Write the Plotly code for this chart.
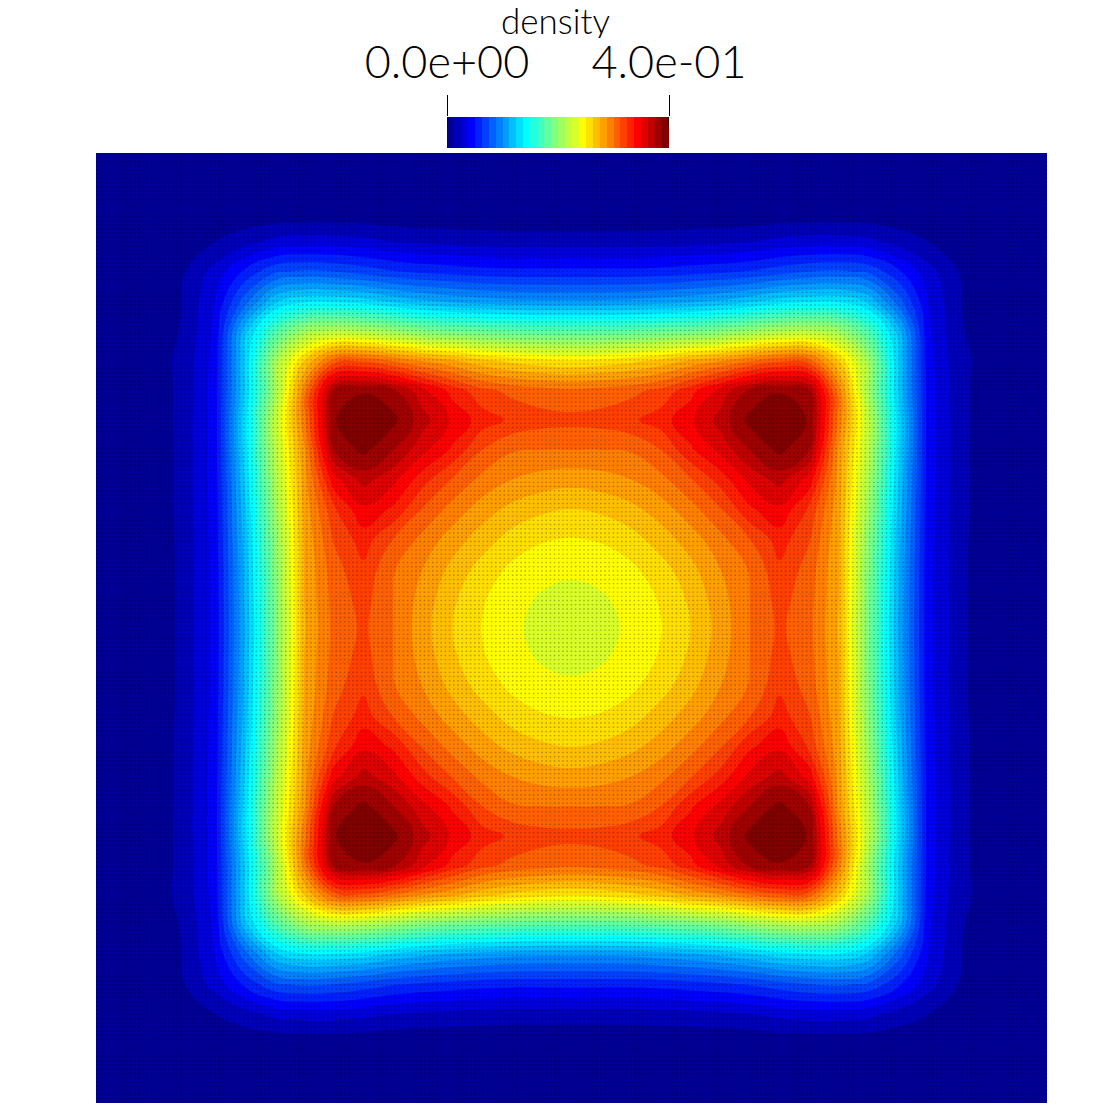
import numpy as np
import plotly.graph_objects as go

# density, in colour-band units (1 unit = 0.0125 of density)
band_rows = [
[0,0,0,0,0,0,0,0,0,0,0,0,0,0,0,0,0,0,0,0,0,0,0,0,0,0,0,0,0,0,0,0,0],
[0,0,0,0,0,0,0,0,0,0,0,0,0,0,0,0,0,0,0,0,0,0,0,0,0,0,0,0,0,0,0,0,0],
[0,0,0,0,.1,.2,.2,.2,.2,.2,.1,.1,.1,.1,.1,.1,.1,.1,.1,.1,.1,.1,.1,.2,.2,.2,.2,.2,.2,.1,0,0,0],
[0,0,0,.2,1.0,1.6,2.3,2.5,2.5,2.3,2.0,1.8,1.7,1.6,1.5,1.5,1.5,1.5,1.5,1.6,1.7,1.8,2.0,2.3,2.5,2.5,2.3,1.6,1.0,.2,0,0,0],
[0,0,.1,1.0,2.4,4.2,5.8,6.2,6.0,5.6,5.1,4.8,4.6,4.4,4.3,4.3,4.3,4.3,4.3,4.4,4.6,4.8,5.1,5.6,6.0,6.2,5.8,4.2,2.4,1.0,.1,0,0],
[0,0,.2,1.1,3.0,6.5,9.8,10.8,10.8,10.5,9.8,9.2,8.8,8.5,8.3,8.2,8.2,8.2,8.3,8.5,8.8,9.2,9.8,10.5,10.8,10.8,9.8,6.5,3.0,1.1,.2,0,0],
[0,0,.3,1.2,3.2,9.5,13.8,16.5,17.3,17.0,16.3,15.5,15,14.7,14.4,14.2,14.2,14.2,14.4,14.7,15,15.5,16.3,17.0,17.3,16.5,13.8,9.5,3.2,1.2,.3,0,0],
[0,0,.5,1.4,3.4,10,16.5,21,24.5,24.8,23.9,22.9,22.2,21.3,20.7,20.3,20.1,20.3,20.7,21.3,22.2,22.9,23.9,24.8,24.5,21,16.5,10,3.4,1.4,.5,0,0],
[0,0,.4,1.4,3.5,10,16.5,23.5,30.2,30.9,30.2,28.3,26.6,25.3,24.7,24.4,24.2,24.4,24.7,25.3,26.6,28.3,30.2,30.9,30.2,23.5,16.5,10,3.5,1.4,.4,0,0],
[0,0,.3,1.5,3.5,10.5,17.5,23.6,30.9,31.9,31.3,29.4,27.8,26.5,25.8,25.4,25.3,25.4,25.8,26.5,27.8,29.4,31.3,31.9,30.9,23.6,17.5,10.5,3.5,1.5,.3,0,0],
[0,0,.2,1.5,3.5,10.4,17.3,22.8,30,31.3,30,28.3,26.8,25,24.1,24,24,24,24.1,25,26.8,28.3,30,31.3,30,22.8,17.3,10.4,3.5,1.5,.2,0,0],
[0,0,.2,1.5,3.5,10,16.8,22.5,27.6,29.4,28.3,26.4,24.9,23.7,23,22.6,22.4,22.6,23,23.7,24.9,26.4,28.3,29.4,27.6,22.5,16.8,10,3.5,1.5,.2,0,0],
[0,0,.2,1.5,3.4,9.7,16.3,22.3,25.8,27.8,26.8,24.9,23.6,22.5,21.7,21.2,21,21.2,21.7,22.5,23.6,24.9,26.8,27.8,25.8,22.3,16.3,9.7,3.4,1.5,.2,0,0],
[0,0,.1,1.5,3.4,9.4,15.8,22.1,25.1,26.5,25,23.7,22.5,21.5,20.6,20.1,19.95,20.1,20.6,21.5,22.5,23.7,25,26.5,25.1,22.1,15.8,9.4,3.4,1.5,.1,0,0],
[0,0,.1,1.45,3.3,9.2,15.5,22,24.6,25.8,24.1,23,21.7,20.6,19.8,19.45,19.25,19.45,19.8,20.6,21.7,23,24.1,25.8,24.6,22,15.5,9.2,3.3,1.45,.1,0,0],
[0,0,.1,1.45,3.3,9.1,15.3,22,24.4,25.4,24,22.6,21.2,20.1,19.45,18.85,18.6,18.85,19.45,20.1,21.2,22.6,24,25.4,24.4,22,15.3,9.1,3.3,1.45,.1,0,0],
[0,0,.1,1.45,3.3,9,15.2,21.9,24.3,25.2,24,22.4,21,19.95,19.25,18.6,18.3,18.6,19.25,19.95,21,22.4,24,25.2,24.3,21.9,15.2,9,3.3,1.45,.1,0,0],
[0,0,.1,1.45,3.3,9.1,15.3,22,24.4,25.4,24,22.6,21.2,20.1,19.45,18.85,18.6,18.85,19.45,20.1,21.2,22.6,24,25.4,24.4,22,15.3,9.1,3.3,1.45,.1,0,0],
[0,0,.1,1.45,3.3,9.2,15.5,22,24.6,25.8,24.1,23,21.7,20.6,19.8,19.45,19.25,19.45,19.8,20.6,21.7,23,24.1,25.8,24.6,22,15.5,9.2,3.3,1.45,.1,0,0],
[0,0,.1,1.5,3.4,9.4,15.8,22.1,25.1,26.5,25,23.7,22.5,21.5,20.6,20.1,19.95,20.1,20.6,21.5,22.5,23.7,25,26.5,25.1,22.1,15.8,9.4,3.4,1.5,.1,0,0],
[0,0,.2,1.5,3.4,9.7,16.3,22.3,25.8,27.8,26.8,24.9,23.6,22.5,21.7,21.2,21,21.2,21.7,22.5,23.6,24.9,26.8,27.8,25.8,22.3,16.3,9.7,3.4,1.5,.2,0,0],
[0,0,.2,1.5,3.5,10,16.8,22.5,27.6,29.4,28.3,26.4,24.9,23.7,23,22.6,22.4,22.6,23,23.7,24.9,26.4,28.3,29.4,27.6,22.5,16.8,10,3.5,1.5,.2,0,0],
[0,0,.2,1.5,3.5,10.4,17.3,22.8,30,31.3,30,28.3,26.8,25,24.1,24,24,24,24.1,25,26.8,28.3,30,31.3,30,22.8,17.3,10.4,3.5,1.5,.2,0,0],
[0,0,.3,1.5,3.5,10.5,17.5,23.6,30.9,31.9,31.3,29.4,27.8,26.5,25.8,25.4,25.3,25.4,25.8,26.5,27.8,29.4,31.3,31.9,30.9,23.6,17.5,10.5,3.5,1.5,.3,0,0],
[0,0,.4,1.4,3.5,10,16.5,23.5,30.2,30.9,30.2,28.3,26.6,25.3,24.7,24.4,24.2,24.4,24.7,25.3,26.6,28.3,30.2,30.9,30.2,23.5,16.5,10,3.5,1.4,.4,0,0],
[0,0,.5,1.4,3.4,10,16.5,21,24.5,24.8,23.9,22.9,22.2,21.3,20.7,20.3,20.1,20.3,20.7,21.3,22.2,22.9,23.9,24.8,24.5,21,16.5,10,3.4,1.4,.5,0,0],
[0,0,.3,1.2,3.2,9.5,13.8,16.5,17.3,17.0,16.3,15.5,15,14.7,14.4,14.2,14.2,14.2,14.4,14.7,15,15.5,16.3,17.0,17.3,16.5,13.8,9.5,3.2,1.2,.3,0,0],
[0,0,.2,1.1,3.0,6.5,9.8,10.8,10.8,10.5,9.8,9.2,8.8,8.5,8.3,8.2,8.2,8.2,8.3,8.5,8.8,9.2,9.8,10.5,10.8,10.8,9.8,6.5,3.0,1.1,.2,0,0],
[0,0,.1,1.0,2.4,4.2,5.8,6.2,6.0,5.6,5.1,4.8,4.6,4.4,4.3,4.3,4.3,4.3,4.3,4.4,4.6,4.8,5.1,5.6,6.0,6.2,5.8,4.2,2.4,1.0,.1,0,0],
[0,0,0,.2,1.0,1.6,2.3,2.5,2.5,2.3,2.0,1.8,1.7,1.6,1.5,1.5,1.5,1.5,1.5,1.6,1.7,1.8,2.0,2.3,2.5,2.5,2.3,1.6,1.0,.2,0,0,0],
[0,0,0,0,.1,.2,.2,.2,.2,.2,.1,.1,.1,.1,.1,.1,.1,.1,.1,.1,.1,.1,.1,.2,.2,.2,.2,.2,.2,.1,0,0,0],
[0,0,0,0,0,0,0,0,0,0,0,0,0,0,0,0,0,0,0,0,0,0,0,0,0,0,0,0,0,0,0,0,0],
[0,0,0,0,0,0,0,0,0,0,0,0,0,0,0,0,0,0,0,0,0,0,0,0,0,0,0,0,0,0,0,0,0],
]

tick_values = [0.0, 0.4]
tick_labels = ["0.0e+00", "4.0e-01"]
band_edges = [0.0125 * i for i in range(33)]

band_colors = [
"#000096","#0000b8","#0000da","#0000ff","#0020ff","#0040ff","#0060ff","#0080ff",
"#009fff","#00bfff","#00dfff","#00ffff","#20ffdf","#40ffbf","#60ff9f","#80ff80",
"#9fff60","#bfff40","#d8ff28","#ffff00","#ffdf00","#ffbf00","#ff9f00","#ff8000",
"#ff6000","#ff4000","#ff2000","#ff0000","#df0000","#bf0000","#9f0000","#800000",
]

W = H = 1110
density = np.array(band_rows, dtype=float) * 0.0125
n = len(band_colors)
scale = []
for i, c in enumerate(band_colors):
    scale.append([i / n, c])
    scale.append([(i + 1) / n, c])

fig = go.Figure()
fig.add_trace(go.Contour(
    z=density,
    x=np.arange(density.shape[1]),
    y=np.arange(density.shape[0]),
    zmin=0, zmax=0.4,
    colorscale=scale,
    autocontour=False,
    contours=dict(start=0.0, end=0.4, size=0.0125, coloring="fill", showlines=False),
    line=dict(width=0, smoothing=1.3),
    hoverinfo="skip",
    showscale=False,
))

# fine computational mesh, seen as a texture of small dots over the field
mx, my = [], []
for v in np.linspace(0, 32, 226):
    mx += [0, 32, None]
    my += [v, v, None]
fig.add_trace(go.Scatter(
    x=mx, y=my, mode="lines", hoverinfo="skip", showlegend=False,
    line=dict(color="rgba(0,0,0,0.28)", width=1.4, dash="1.6px,2.6px"),
))

# colour legend drawn as a real one-row heatmap on its own axis
mids = [(band_edges[i] + band_edges[i + 1]) / 2 for i in range(n)]
fig.add_trace(go.Heatmap(
    z=[mids], x=band_edges, y=[0, 1],
    xaxis="x2", yaxis="y2",
    zmin=0, zmax=0.4, colorscale=scale, showscale=False, hoverinfo="skip",
))

fig.add_annotation(
    text="density", xref="paper", yref="paper",
    x=555 / W, y=(H - 20) / H, xanchor="center", yanchor="middle",
    height=36, valign="middle",
    showarrow=False, font=dict(family="Lato", size=35, color="black", weight=300),
)
for tv in tick_values:
    fig.add_shape(type="line", xref="x2", yref="paper", x0=tv, x1=tv,
                  y0=(H - 127) / H, y1=(H - 117) / H,
                  line=dict(color="black", width=1), layer="above")
fig.update_layout(
    width=W, height=H, autosize=False, showlegend=False,
    margin=dict(l=0, r=0, t=0, b=0, autoexpand=False),
    paper_bgcolor="white", plot_bgcolor="white",
    xaxis=dict(visible=False, domain=[96 / W, 1047 / W], range=[0, 32]),
    yaxis=dict(visible=False, domain=[(H - 1103) / H, (H - 153) / H], range=[32, 0]),
    xaxis2=dict(
        domain=[447 / W, 669 / W], range=[0, 0.4], anchor="y2",
        side="top", automargin=False,
        tickmode="array", tickvals=tick_values, ticktext=tick_labels,
        ticks="outside", ticklen=21, tickwidth=1, tickcolor="black",
        showline=False, showgrid=False, zeroline=False, ticklabelstandoff=-1,
        tickfont=dict(family="Lato", size=45, color="black", weight=300),
    ),
    yaxis2=dict(
        visible=False, domain=[(H - 148) / H, (H - 117) / H], range=[0, 1],
        anchor="x2",
    ),
)
fig.write_html("out.html", config={"displayModeBar": False},
               post_script="document.body.style.margin='0';")
